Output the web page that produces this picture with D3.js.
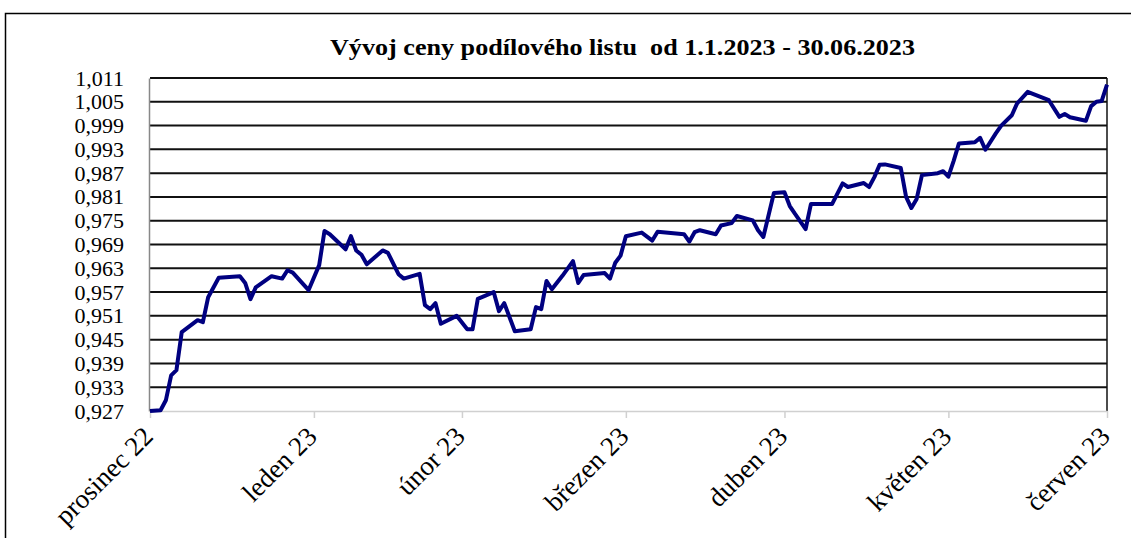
<!DOCTYPE html>
<html>
<head>
<meta charset="utf-8">
<script src="https://cdn.jsdelivr.net/npm/d3@7"></script>
<style>
  body { margin: 0; background: #fff; }
  text { font-family: "Liberation Serif", "Times New Roman", serif; fill: #000; }
</style>
</head>
<body>
<div id="chart"></div>
<script>
// Fund price data (vertices of the line)
const dates = [
  "2022-12-31", "2023-01-02", "2023-01-03", "2023-01-04", "2023-01-05", "2023-01-06",
  "2023-01-09", "2023-01-10", "2023-01-11", "2023-01-13", "2023-01-17", "2023-01-18",
  "2023-01-19", "2023-01-20", "2023-01-23", "2023-01-25", "2023-01-26", "2023-01-27",
  "2023-01-30", "2023-02-01", "2023-02-02", "2023-02-03", "2023-02-06", "2023-02-07",
  "2023-02-08", "2023-02-09", "2023-02-10", "2023-02-13", "2023-02-14", "2023-02-16",
  "2023-02-17", "2023-02-20", "2023-02-21", "2023-02-22", "2023-02-23", "2023-02-24",
  "2023-02-27", "2023-03-01", "2023-03-02", "2023-03-03", "2023-03-06", "2023-03-07",
  "2023-03-08", "2023-03-10", "2023-03-13", "2023-03-14", "2023-03-15", "2023-03-16",
  "2023-03-17", "2023-03-19", "2023-03-21", "2023-03-22", "2023-03-23", "2023-03-27",
  "2023-03-28", "2023-03-29", "2023-03-30", "2023-03-31", "2023-04-03", "2023-04-04",
  "2023-04-05", "2023-04-06", "2023-04-11", "2023-04-12", "2023-04-13", "2023-04-14",
  "2023-04-17", "2023-04-18", "2023-04-20", "2023-04-21", "2023-04-24", "2023-04-25",
  "2023-04-26", "2023-04-28", "2023-04-30", "2023-05-01", "2023-05-02", "2023-05-04",
  "2023-05-05", "2023-05-09", "2023-05-11", "2023-05-12", "2023-05-15", "2023-05-16",
  "2023-05-17", "2023-05-18", "2023-05-19", "2023-05-22", "2023-05-23", "2023-05-24",
  "2023-05-25", "2023-05-26", "2023-05-29", "2023-05-30", "2023-05-31", "2023-06-01",
  "2023-06-02", "2023-06-05", "2023-06-06", "2023-06-07", "2023-06-09", "2023-06-10",
  "2023-06-12", "2023-06-13", "2023-06-15", "2023-06-19", "2023-06-21", "2023-06-22",
  "2023-06-23", "2023-06-26", "2023-06-27", "2023-06-28", "2023-06-29", "2023-06-30"
];
const prices = [
  0.9270, 0.9272, 0.9297, 0.9360, 0.9373, 0.9469,
  0.9499, 0.9494, 0.9557, 0.9606, 0.9610, 0.9593,
  0.9552, 0.9582, 0.9610, 0.9604, 0.9625, 0.9619,
  0.9575, 0.9638, 0.9724, 0.9716, 0.9678, 0.9711,
  0.9675, 0.9664, 0.9640, 0.9675, 0.9669, 0.9615,
  0.9604, 0.9616, 0.9537, 0.9527, 0.9542, 0.9490,
  0.9510, 0.9476, 0.9476, 0.9553, 0.9570, 0.9522,
  0.9542, 0.9471, 0.9476, 0.9532, 0.9527, 0.9598,
  0.9577, 0.9611, 0.9648, 0.9593, 0.9613, 0.9618,
  0.9604, 0.9644, 0.9662, 0.9711, 0.9720, 0.9710,
  0.9700, 0.9722, 0.9716, 0.9697, 0.9721, 0.9726,
  0.9716, 0.9738, 0.9744, 0.9762, 0.9751, 0.9726,
  0.9709, 0.9820, 0.9822, 0.9787, 0.9767, 0.9729,
  0.9792, 0.9792, 0.9844, 0.9835, 0.9845, 0.9835,
  0.9860, 0.9891, 0.9892, 0.9883, 0.9810, 0.9782,
  0.9805, 0.9865, 0.9870, 0.9875, 0.9861, 0.9901,
  0.9945, 0.9948, 0.9959, 0.9929, 0.9971, 0.9990,
  1.0016, 1.0046, 1.0075, 1.0054, 1.0012, 1.0019,
  1.0011, 1.0002, 1.0039, 1.0050, 1.0052, 1.0093
];

// Axis ticks
const yTicks = [0.927, 0.933, 0.939, 0.945, 0.951, 0.957, 0.963, 0.969, 0.975,
                0.981, 0.987, 0.993, 0.999, 1.005, 1.011];
const monthTicks = ["2022-12-31", "2023-01-31", "2023-02-28", "2023-03-31",
                    "2023-04-30", "2023-05-31", "2023-06-30"];
const monthLabels = ["prosinec 22", "leden 23", "únor 23", "březen 23",
                     "duben 23", "květen 23", "červen 23"];

const chartTitle = "Vývoj ceny podílového listu  od 1.1.2023 - 30.06.2023";

const W = 1131, H = 538;
const plot = { left: 150, right: 1107, top: 78, bottom: 411 };

const parse = d3.timeParse("%Y-%m-%d");
const data = dates.map((d, i) => ({ date: parse(d), value: prices[i] }));

const cz = d3.formatLocale({ decimal: ",", thousands: " ", grouping: [3], currency: ["", " Kč"] });
const fmt = cz.format(".3f");

const svg = d3.select("#chart").append("svg")
  .attr("width", W)
  .attr("height", H);

// outer chart border
svg.append("rect")
  .attr("x", 5.5).attr("y", 13.5)
  .attr("width", W + 20).attr("height", H + 20)
  .attr("fill", "none")
  .attr("stroke", "#000")
  .attr("stroke-width", 1.5);

svg.append("text")
  .attr("x", 330)
  .attr("y", 55)
  .attr("textLength", 585)
  .attr("lengthAdjust", "spacingAndGlyphs")
  .style("font-size", "23px")
  .style("font-weight", "bold")
  .attr("xml:space", "preserve")
  .text(chartTitle);

const x = d3.scaleTime()
  .domain([parse(monthTicks[0]), parse(monthTicks[monthTicks.length - 1])])
  .range([plot.left, plot.right]);

const y = d3.scaleLinear()
  .domain([yTicks[0], yTicks[yTicks.length - 1]])
  .range([plot.bottom, plot.top]);

// horizontal gridlines
svg.append("g")
  .selectAll("line")
  .data(yTicks.slice(1))
  .enter()
  .append("line")
  .attr("x1", plot.left)
  .attr("x2", plot.right)
  .attr("y1", d => y(d))
  .attr("y2", d => y(d))
  .attr("stroke", "#111")
  .attr("stroke-width", 2);

// right border of the plot
svg.append("line")
  .attr("x1", plot.right).attr("x2", plot.right)
  .attr("y1", plot.top).attr("y2", plot.bottom)
  .attr("stroke", "#111")
  .attr("stroke-width", 1.5);

// y axis
const yAxis = svg.append("g")
  .attr("transform", `translate(${plot.left - 1},0)`)
  .call(d3.axisLeft(y).tickValues(yTicks).tickFormat(fmt).tickSize(0).tickPadding(25));
yAxis.select(".domain").attr("stroke", "#888").attr("stroke-width", 1.5);
yAxis.selectAll("text")
  .style("font-size", "22px")
  .style("font-family", "'Liberation Serif', serif");

// x axis
const xAxis = svg.append("g")
  .attr("transform", `translate(0,${plot.bottom})`)
  .call(d3.axisBottom(x)
    .tickValues(monthTicks.map(parse))
    .tickFormat((d, i) => monthLabels[i])
    .tickSize(7)
    .tickSizeOuter(0));
xAxis.select(".domain").attr("stroke", "#d0d0d0").attr("stroke-width", 1.5);
xAxis.selectAll(".tick line").attr("stroke", "#d0d0d0").attr("stroke-width", 1.5);
xAxis.selectAll("text")
  .style("font-size", "27px")
  .style("font-family", "'Liberation Serif', serif")
  .attr("text-anchor", "end")
  .attr("dy", 0)
  .attr("transform", "translate(-3,20) rotate(-45)");

// price line
svg.append("path")
  .datum(data)
  .attr("fill", "none")
  .attr("stroke", "#000080")
  .attr("stroke-width", 4)
  .attr("stroke-linejoin", "round")
  .attr("d", d3.line().x(d => x(d.date)).y(d => y(d.value)));
</script>
</body>
</html>
